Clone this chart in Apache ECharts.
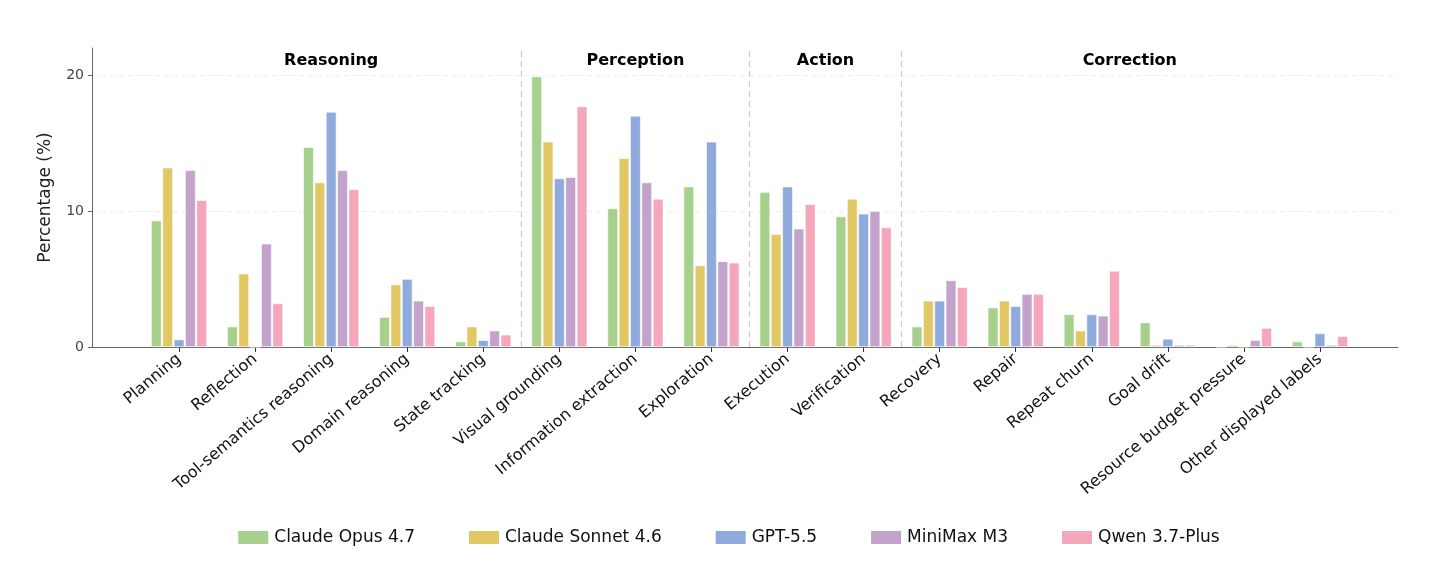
<!DOCTYPE html>
<html><head><meta charset="utf-8">
<script src="https://cdn.jsdelivr.net/npm/echarts@6/dist/echarts.min.js"></script>
<style>html,body{margin:0;padding:0;background:#fff}#c{width:1456px;height:567px}</style>
</head><body><div id="c"></div>
<script>
const categories = ["Planning","Reflection","Tool-semantics reasoning","Domain reasoning","State tracking","Visual grounding","Information extraction","Exploration","Execution","Verification","Recovery","Repair","Repeat churn","Goal drift","Resource budget pressure","Other displayed labels"];
const seriesNames = ["Claude Opus 4.7","Claude Sonnet 4.6","GPT-5.5","MiniMax M3","Qwen 3.7-Plus"];
const opus   = [9.3,1.5,14.7,2.2,0.4,19.9,10.2,11.8,11.4,9.6,1.5,2.9,2.4,1.8,0,0.4];
const sonnet = [13.2,5.4,12.1,4.6,1.5,15.1,13.9,6.0,8.3,10.9,3.4,3.4,1.2,0.15,0.15,0];
const gpt    = [0.55,0,17.3,5.0,0.5,12.4,17.0,15.1,11.8,9.8,3.4,3.0,2.4,0.6,0,1.0];
const minimax= [13.0,7.6,13.0,3.4,1.2,12.5,12.1,6.3,8.7,10.0,4.9,3.9,2.3,0.15,0.5,0.15];
const qwen   = [10.8,3.2,11.6,3.0,0.9,17.7,10.9,6.2,10.5,8.8,4.4,3.9,5.6,0.15,1.4,0.8];
const groups = [{name:"Reasoning",mid:2},{name:"Perception",mid:6},{name:"Action",mid:8.5},{name:"Correction",mid:12.5}];
const separators = [4.5,7.5,9.5];
const yTicks = [0,10,20];
const colors = ["#a8d08d","#e2c765","#8faadc","#c3a2cb","#f4a7ba"];
const values = [opus,sonnet,gpt,minimax,qwen];
const F = "DejaVu Sans";
const chart = echarts.init(document.getElementById('c'));
const TOP=48,BOT=220,YMAX=22;
chart.setOption({
  animation:false,
  grid:[{left:92,right:58,top:TOP,bottom:BOT},{left:141,right:98,top:TOP,bottom:BOT}],
  xAxis:[
    {type:'value',gridIndex:0,min:0,max:1,axisLine:{show:true,lineStyle:{color:'#666',width:1}},axisTick:{show:false},axisLabel:{show:false},splitLine:{show:false}},
    {type:'category',gridIndex:1,data:categories,axisLine:{show:false},axisTick:{show:true,alignWithLabel:true,length:5,lineStyle:{color:'#333'}},
     axisLabel:{rotate:40,fontFamily:F,fontSize:16,color:'#111',interval:0,margin:10}},
    {type:'value',gridIndex:1,min:-0.5,max:15.5,show:false}
  ],
  yAxis:[
    {type:'value',gridIndex:0,min:0,max:YMAX,interval:10,name:'Percentage (%)',nameLocation:'middle',nameGap:38,
     nameTextStyle:{fontFamily:F,fontSize:17,color:'#222'},
     axisLine:{show:true,lineStyle:{color:'#666'}},axisTick:{show:true,length:4,lineStyle:{color:'#666'},customValues:yTicks},
     axisLabel:{fontFamily:F,fontSize:14,color:'#444',customValues:yTicks},
     splitLine:{show:true,lineStyle:{color:['transparent','#eee','#eee','transparent'],type:[5,4]}}},
    {type:'value',gridIndex:1,min:0,max:YMAX,show:false}
  ],
  legend:{bottom:16,left:'center',itemWidth:32,itemHeight:15,itemGap:52,icon:'rect',
    textStyle:{fontFamily:F,fontSize:17,color:'#111'},data:seriesNames},
  series:[
    ...seriesNames.map((n,i)=>({name:n,type:'bar',xAxisIndex:1,yAxisIndex:1,data:values[i],barWidth:10.5,barGap:'8%',
      itemStyle:{color:colors[i],borderColor:'#fff',borderWidth:0.6}})),
    {type:'line',xAxisIndex:2,yAxisIndex:1,data:[],silent:true,
     markPoint:{symbol:'rect',symbolSize:1,itemStyle:{color:'transparent'},
       label:{show:true,position:'inside',formatter:p=>p.name,fontFamily:F,fontSize:16,fontWeight:'bold',color:'#000'},
       data:groups.map(g=>({name:g.name,coord:[g.mid,21.05]}))},
     markLine:{symbol:'none',silent:true,label:{show:false},lineStyle:{color:'#ccc',type:[6,4],width:1.2},
       data:separators.map(s=>[{coord:[s,0]},{coord:[s,YMAX]}])}}
  ]
});
</script></body></html>
